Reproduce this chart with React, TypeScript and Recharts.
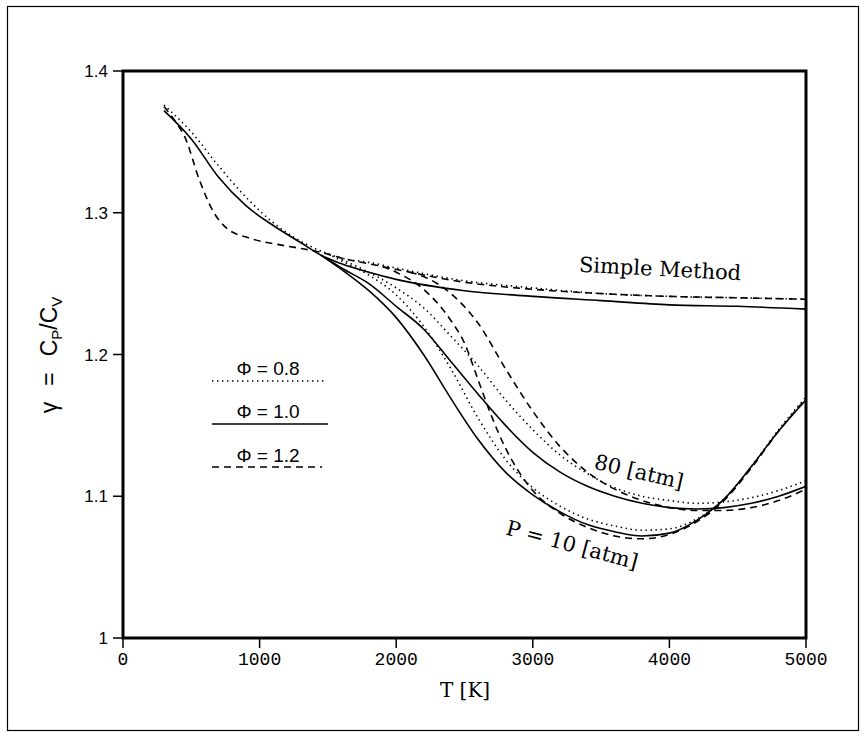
import { LineChart, Line, XAxis, YAxis, ReferenceArea } from "recharts";

// axis ticks
const xTicks = [0, 1000, 2000, 3000, 4000, 5000];
const yTicks = [1, 1.1, 1.2, 1.3, 1.4];

// "simple method" curves (no dissociation), one per equivalence ratio
const tSimple10 = [300, 500, 700, 900, 1100, 1300, 1450, 1600, 1800, 2000, 2500, 3000, 3500, 4000, 4500, 5000];
const gSimple10 = [1.372, 1.352, 1.325, 1.305, 1.291, 1.279, 1.27, 1.264, 1.258, 1.253, 1.245, 1.241, 1.238, 1.235, 1.234, 1.232];

const tSimple08 = [300, 500, 700, 900, 1100, 1300, 1450, 1600, 1800, 2000, 2500, 3000, 3500, 4000, 4500, 5000];
const gSimple08 = [1.376, 1.357, 1.333, 1.311, 1.293, 1.28, 1.273, 1.268, 1.265, 1.261, 1.252, 1.247, 1.243, 1.241, 1.24, 1.239];

const tSimple12 = [300, 400, 450, 560, 660, 760, 930, 1170, 1350, 1450, 1600, 1800, 2000, 2500, 3000, 3500, 4000, 4500, 5000];
const gSimple12 = [1.375, 1.362, 1.354, 1.323, 1.301, 1.289, 1.282, 1.277, 1.274, 1.272, 1.268, 1.264, 1.26, 1.251, 1.246, 1.243, 1.241, 1.24, 1.239];

// P = 10 atm
const tP10phi10 = [1450, 1600, 1800, 2000, 2200, 2400, 2600, 2800, 3000, 3200, 3400, 3600, 3800, 4000, 4200, 4400, 4600, 4800, 5000];
const gP10phi10 = [1.27, 1.26, 1.245, 1.226, 1.2, 1.169, 1.14, 1.117, 1.101, 1.089, 1.08, 1.075, 1.072, 1.074, 1.083, 1.098, 1.121, 1.146, 1.168];

const tP10phi08 = [1500, 1600, 1800, 2000, 2200, 2400, 2600, 2800, 3000, 3200, 3400, 3600, 3800, 4000, 4200, 4400, 4600, 4800, 5000];
const gP10phi08 = [1.271, 1.266, 1.256, 1.242, 1.22, 1.19, 1.155, 1.126, 1.106, 1.093, 1.084, 1.079, 1.076, 1.077, 1.084, 1.098, 1.121, 1.147, 1.17];

const tP10phi12 = [1900, 2000, 2200, 2400, 2500, 2600, 2700, 2800, 2900, 3000, 3200, 3400, 3600, 3800, 4000, 4200, 4400, 4600, 4800, 5000];
const gP10phi12 = [1.262, 1.258, 1.246, 1.224, 1.208, 1.182, 1.156, 1.134, 1.117, 1.104, 1.088, 1.078, 1.072, 1.07, 1.073, 1.082, 1.097, 1.12, 1.146, 1.169];

// P = 80 atm
const tP80phi10 = [1500, 1600, 1800, 2000, 2200, 2400, 2600, 2800, 3000, 3200, 3400, 3600, 3800, 4000, 4200, 4400, 4600, 4800, 5000];
const gP80phi10 = [1.267, 1.261, 1.25, 1.234, 1.218, 1.195, 1.172, 1.15, 1.131, 1.117, 1.107, 1.1, 1.095, 1.092, 1.091, 1.092, 1.095, 1.1, 1.107];

const tP80phi08 = [1600, 1800, 2000, 2200, 2400, 2600, 2800, 3000, 3200, 3400, 3600, 3800, 4000, 4200, 4400, 4600, 4800, 5000];
const gP80phi08 = [1.267, 1.258, 1.247, 1.233, 1.213, 1.192, 1.168, 1.147, 1.129, 1.116, 1.106, 1.1, 1.097, 1.095, 1.096, 1.099, 1.104, 1.111];

const tP80phi12 = [2100, 2200, 2400, 2600, 2800, 3000, 3200, 3400, 3600, 3800, 4000, 4200, 4400, 4600, 4800, 5000];
const gP80phi12 = [1.258, 1.255, 1.243, 1.222, 1.19, 1.16, 1.135, 1.117, 1.105, 1.097, 1.092, 1.09, 1.09, 1.092, 1.097, 1.105];

const zip = (t: number[], g: number[]) => t.map((T, i) => ({ T, g: g[i] }));

const DOTTED = "1.4 3.6";
const DASHED = "7 5";

const series = [
  { key: "s10", data: zip(tSimple10, gSimple10), dash: undefined },
  { key: "s08", data: zip(tSimple08, gSimple08), dash: DOTTED },
  { key: "s12", data: zip(tSimple12, gSimple12), dash: DASHED },
  { key: "p10a", data: zip(tP10phi10, gP10phi10), dash: undefined },
  { key: "p10b", data: zip(tP10phi08, gP10phi08), dash: DOTTED },
  { key: "p10c", data: zip(tP10phi12, gP10phi12), dash: DASHED },
  { key: "p80a", data: zip(tP80phi10, gP80phi10), dash: undefined },
  { key: "p80b", data: zip(tP80phi08, gP80phi08), dash: DOTTED },
  { key: "p80c", data: zip(tP80phi12, gP80phi12), dash: DASHED },
];

const serif = "'DejaVu Serif', serif";
const sans = "'Liberation Sans', Arial, sans-serif";

export default function App() {
  return (
    <div style={{ position: "absolute", left: 0, top: 0, width: 867, height: 738, background: "#fff" }}>
      <LineChart
        width={867}
        height={738}
        margin={{ top: 71, right: 61, bottom: 70, left: 63 }}
        style={{ position: "absolute", left: 0, top: 0 }}
      >
        <XAxis
          dataKey="T"
          type="number"
          domain={[0, 5000]}
          ticks={xTicks}
          allowDataOverflow
          height={30}
          axisLine={false}
          tickLine={{ stroke: "#000", strokeWidth: 1.5 }}
          tickSize={10}
          tickMargin={4}
          tick={{ fill: "#000", fontSize: 18, fontFamily: "'Liberation Mono', monospace" }}
        />
        <YAxis
          type="number"
          domain={[1, 1.4]}
          ticks={yTicks}
          allowDataOverflow
          width={60}
          axisLine={false}
          tickLine={{ stroke: "#000", strokeWidth: 1.5 }}
          tickSize={10}
          tickMargin={5}
          tickFormatter={(v: number) => (v === 1 ? "1" : v.toFixed(1))}
          tick={{ fill: "#000", fontSize: 17, fontFamily: sans }}
        />
        <ReferenceArea x1={0} x2={5000} y1={1} y2={1.4} fill="none" stroke="#000" strokeWidth={3} />
        {series.map((s) => (
          <Line
            key={s.key}
            data={s.data}
            dataKey="g"
            type="monotone"
            stroke="#000"
            strokeWidth={1.6}
            strokeDasharray={s.dash}
            dot={false}
            activeDot={false}
            legendType="none"
            isAnimationActive={false}
          />
        ))}
      </LineChart>
      <svg width={867} height={738} style={{ position: "absolute", left: 0, top: 0, pointerEvents: "none" }}>
        <rect x={7.5} y={6.5} width={851} height={724} fill="none" stroke="#000" strokeWidth={1.2} />
        {/* y axis title */}
        <text x={57} y={355} transform="rotate(-90 57 355)" textAnchor="middle" fontFamily={sans} fontSize={23} fill="#000">
          γ<tspan dx={16}>=</tspan>
          <tspan dx={16}>C</tspan>
          <tspan fontSize={15} dy={5}>P</tspan>
          <tspan dy={-5}>/C</tspan>
          <tspan fontSize={15} dy={5}>V</tspan>
        </text>
        {/* x axis title */}
        <text x={465} y={697} textAnchor="middle" fontFamily={serif} fontSize={20} fill="#000">
          T [K]
        </text>
        {/* curve annotations */}
        <text x={660} y={276} textAnchor="middle" fontFamily={serif} fontSize={21} fill="#000" transform="rotate(3 660 270)">
          Simple Method
        </text>
        <text x={639} y={479} textAnchor="middle" fontFamily={serif} fontSize={21} fill="#000" transform="rotate(13 639 472)">
          80 [atm]
        </text>
        <text x={572} y={552} textAnchor="middle" fontFamily={serif} fontSize={21} fill="#000" transform="rotate(15 572 545)">
          P = 10 [atm]
        </text>
        {/* phi legend */}
        <text x={268} y={375} textAnchor="middle" fontFamily={sans} fontSize={19} fill="#000">Φ = 0.8</text>
        <line x1={212} y1={381} x2={324} y2={381} stroke="#000" strokeWidth={1.6} strokeDasharray={DOTTED} />
        <text x={268} y={418} textAnchor="middle" fontFamily={sans} fontSize={19} fill="#000">Φ = 1.0</text>
        <line x1={212} y1={424} x2={328} y2={424} stroke="#000" strokeWidth={1.6} />
        <text x={268} y={462} textAnchor="middle" fontFamily={sans} fontSize={19} fill="#000">Φ = 1.2</text>
        <line x1={212} y1={467} x2={322} y2={467} stroke="#000" strokeWidth={1.6} strokeDasharray={DASHED} />
      </svg>
    </div>
  );
}
